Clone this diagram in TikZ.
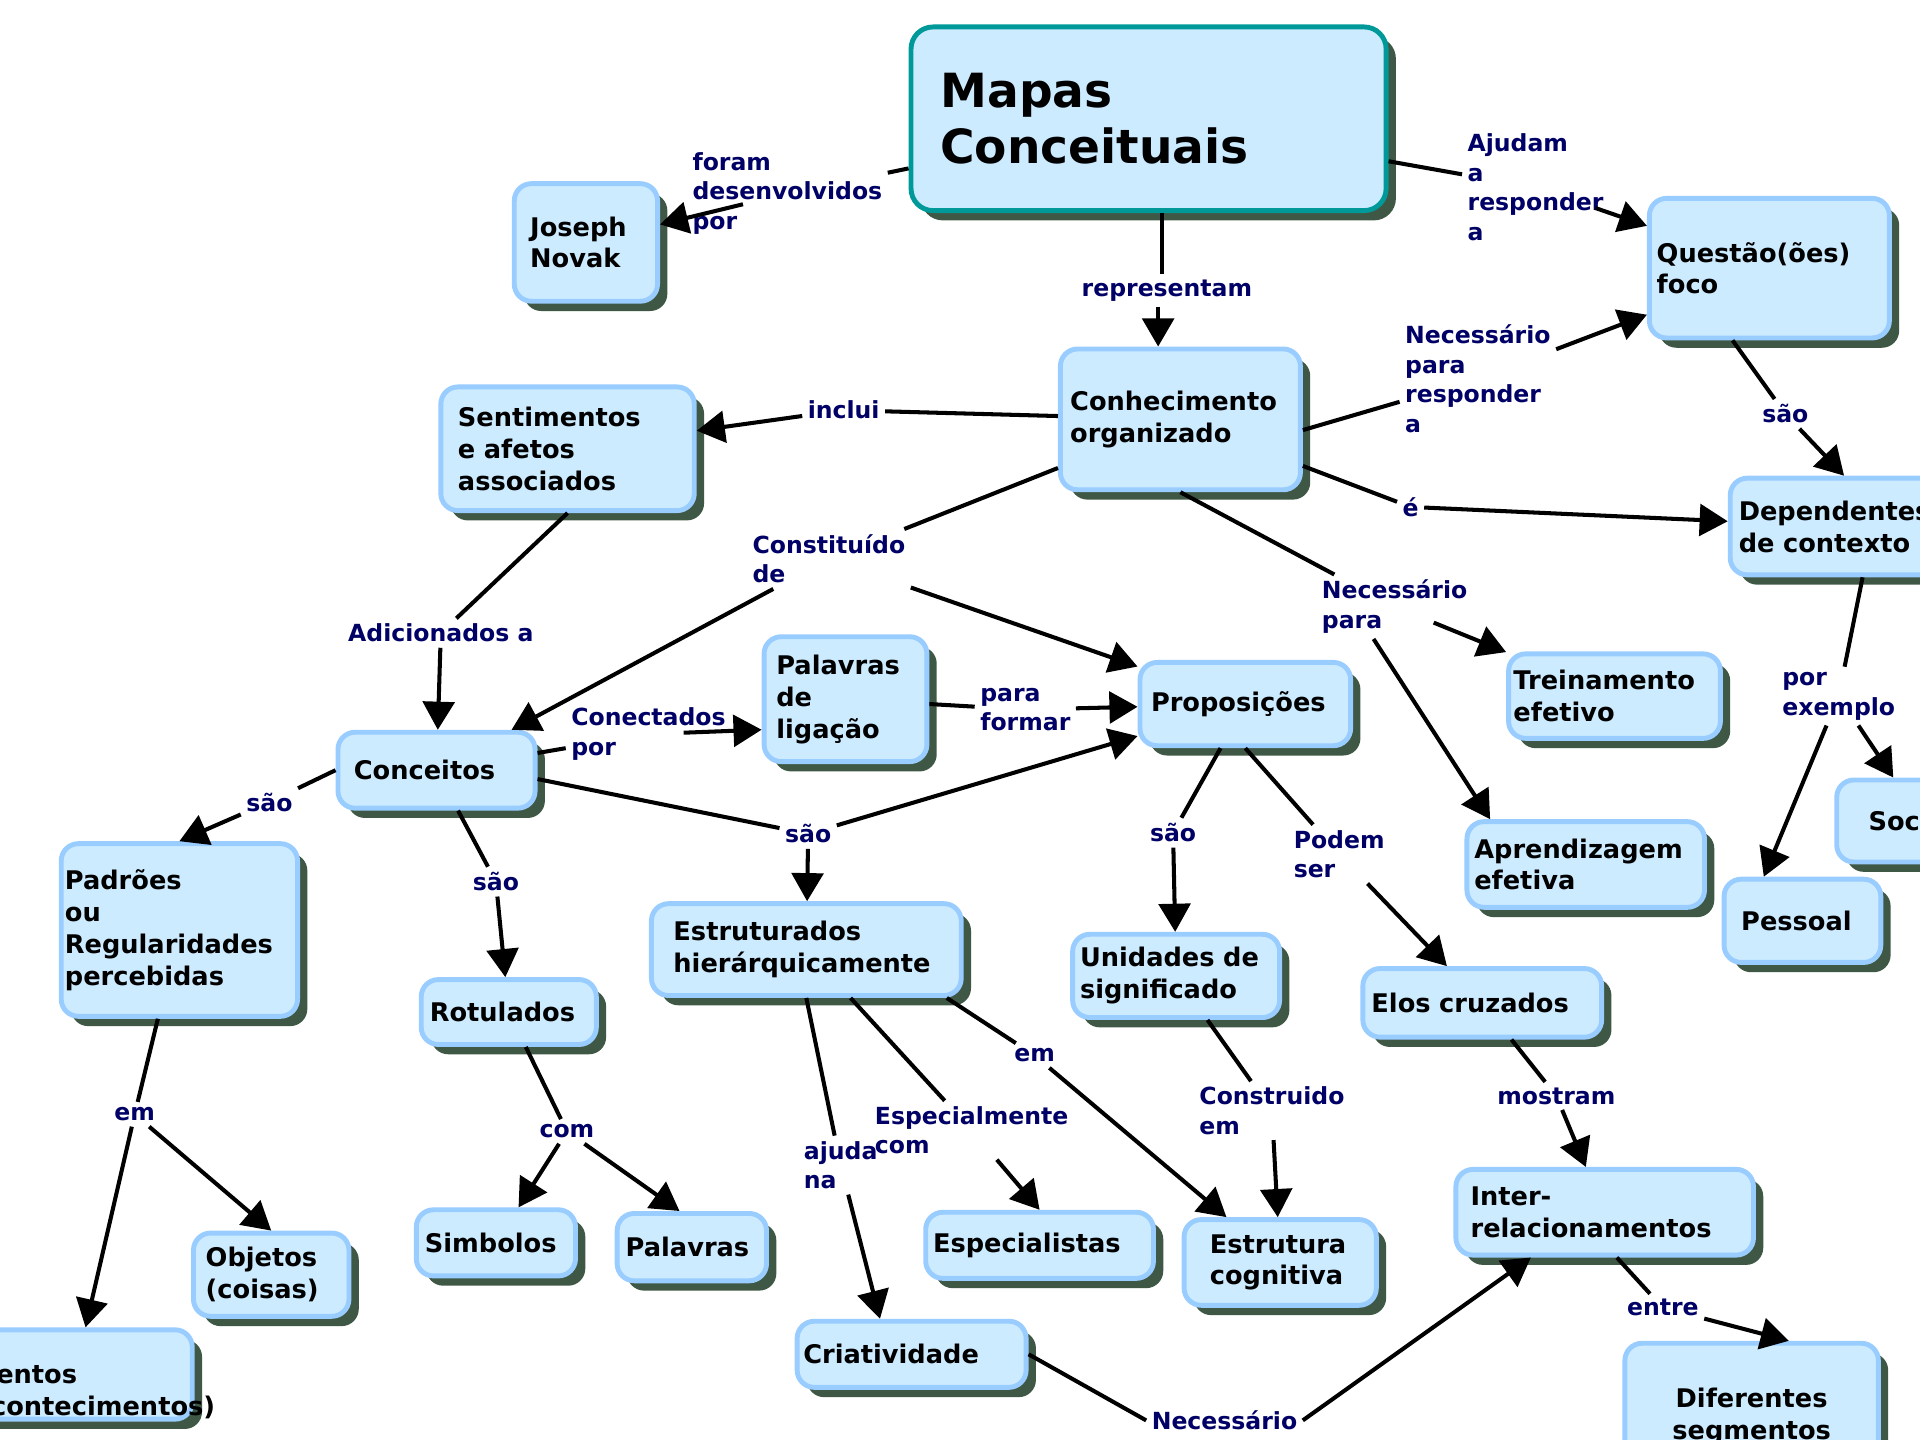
\documentclass[tikz,border=0pt]{standalone}
\usepackage{fontspec}
\setmainfont{DejaVu Sans}
\usetikzlibrary{arrows.meta}
\usetikzlibrary{shadows}
\definecolor{cfill}{HTML}{CCEBFF}
\definecolor{cborder}{HTML}{99CCFF}
\definecolor{mapteal}{HTML}{009999}
\definecolor{shadowc}{HTML}{3F5845}
\definecolor{linknavy}{HTML}{000066}
\newlength{\pxu}\setlength{\pxu}{0.12245mm}
\hyphenpenalty=10000
\exhyphenpenalty=10000

\begin{document}
\begin{tikzpicture}[x=0.12245mm, y=-0.12245mm, % one unit is one pixel of the 1568 wide map, y runs down
                    line join=round,
                    every node/.style = {font=\fontsize{7.3}{9.06}\selectfont\bfseries},
                    concept/.style = {draw=cborder, fill=cfill, line width=4\pxu, rounded corners=14\pxu,
                                      inner xsep=0pt, inner ysep=0pt, align=left,
                                      drop shadow={shadow xshift=8\pxu, shadow yshift=-8\pxu, fill=shadowc, opacity=1}},
                    box/.style n args = {3}{minimum width=#1\pxu, minimum height=#2\pxu, text width=#3\pxu},
                    title/.style = {concept, draw=mapteal, rounded corners=18\pxu,
                                    font=\fontsize{13.4}{16}\selectfont\bfseries},
                    phrase/.style = {text=linknavy, inner sep=4\pxu, align=left,
                                     font=\fontsize{6.7}{8.4}\selectfont\bfseries},
                    link/.style = {line width=1.15pt},
                    arr/.style = {link, -{Triangle[length=8pt, width=9pt]}}
                   ]
  \useasboundingbox (0,0) rectangle (1568,1176);
  \fill[white] (0,0) rectangle (1568,1176);
  \clip (0,0) rectangle (1568,1176);

  % concepts
  \node[title, box={388}{150}{340}] (mapas) at (938,97) {Mapas\\Conceituais};
  \node[concept, box={117}{96}{91}] (novak) at (478.5,198) {Joseph\\Novak};
  \node[concept, box={196}{114}{184}] (questao) at (1445,219) {Questão(ões)\\foco};
  \node[concept, box={196}{115}{180}] (conhec) at (964,342.5) {Conhecimento\\organizado};
  \node[concept, box={207}{101}{179}] (sentim) at (463.5,366.5) {Sentimentos\\e afetos\\associados};
  \node[concept, box={186}{79}{172}] (depend) at (1506,430) {Dependentes\\de contexto};
  \node[concept, box={133}{102}{113}] (palavlig) at (690.5,571) {Palavras\\de\\ligação};
  \node[concept, box={172}{68}{154}] (propos) at (1017,575) {Proposições};
  \node[concept, box={173}{69}{165}] (treina) at (1318.5,568.5) {Treinamento\\efetivo};
  \node[concept, box={161}{62}{135}] (conceitos) at (356.5,629) {Conceitos};
  \node[concept, box={193}{141}{187}] (padroes) at (146.5,759.5) {Padrões\\ou\\Regularidades\\percebidas};
  \node[concept, box={143}{53}{129}] (rotulados) at (415.5,826.5) {Rotulados};
  \node[concept, box={253}{75}{217}] (estrut) at (658.5,775.5) {Estruturados\\hierárquicamente};
  \node[concept, box={169}{68}{157}] (unidades) at (960.5,797) {Unidades de\\significado};
  \node[concept, box={195}{56}{181}] (elos) at (1210.5,819) {Elos cruzados};
  \node[concept, box={194}{70}{182}] (aprend) at (1295,706) {Aprendizagem\\efetiva};
  \node[concept, box={128}{68}{100}] (pessoal) at (1472,752) {Pessoal};
  \node[concept, box={140}{67}{88}] (social) at (1570,670.5) {Social};
  \node[concept, box={127}{68}{107}] (objetos) at (221.5,1041) {Objetos\\(coisas)};
  \node[concept, box={192}{69}{184}] (eventos) at (61,1122.5) {\strut\\Eventos\\(acontecimentos)};
  \node[concept, box={130}{54}{116}] (simbolos) at (405,1015) {Simbolos};
  \node[concept, box={122}{55}{108}] (palavras) at (565,1018.5) {Palavras};
  \node[concept, box={186}{54}{174}] (especial) at (849,1017) {Especialistas};
  \node[concept, box={157}{70}{115}] (estrcog) at (1045.5,1031) {Estrutura\\cognitiva};
  \node[concept, box={187}{54}{177}] (criativ) at (744.5,1106) {Criatividade};
  \node[concept, box={243}{70}{219}] (inter) at (1310.5,990) {Inter-\\relacionamentos};
  \node[concept, box={207}{119}{195}, align=center] (difer) at (1430.5,1156.5) {Diferentes\\segmentos};

  % linking phrases
  \node[phrase, anchor=west] (l-foram) at (561,158) {foram\\desenvolvidos\\por};
  \node[phrase, anchor=west] (l-ajudam) at (1194,153) {Ajudam\\a\\responder\\a};
  \node[phrase] (l-repres) at (953,237) {representam};
  \node[phrase, anchor=west] (l-necresp) at (1143,309.5) {Necessário\\para\\responder\\a};
  \node[phrase] (l-sao1) at (1458,338) {são};
  \node[phrase] (l-inclui) at (689,335) {inclui};
  \node[phrase] (l-e) at (1152,414) {é};
  \node[phrase, anchor=west] (l-const) at (610,456.5) {Constituído\\de};
  \node[phrase, anchor=west] (l-necpara) at (1075,495.5) {Necessário\\para};
  \node[phrase] (l-adic) at (360,517) {Adicionados a};
  \node[phrase, anchor=west] (l-conect) at (462,599.5) {Conectados\\por};
  \node[phrase, anchor=west] (l-formar) at (796,579.5) {para\\formar};
  \node[phrase] (l-sao2) at (220,655) {são};
  \node[phrase] (l-sao3) at (405,720) {são};
  \node[phrase] (l-sao4) at (660,681) {são};
  \node[phrase] (l-sao5) at (958,680) {são};
  \node[phrase, anchor=west] (l-podem) at (1052,697.5) {Podem\\ser};
  \node[phrase, anchor=west] (l-exemplo) at (1451,568.5) {por\\exemplo};
  \node[phrase] (l-em1) at (110,910) {em};
  \node[phrase] (l-com) at (463,924) {com};
  \node[phrase] (l-em2) at (845,862) {em};
  \node[phrase, anchor=west] (l-espec) at (710,923) {Especialmente\\com};
  \node[phrase, anchor=west] (l-ajuda) at (652,951.5) {ajuda\\na};
  \node[phrase, anchor=west] (l-constr) at (975,907) {Construido\\em};
  \node[phrase] (l-mostram) at (1271,895) {mostram};
  \node[phrase] (l-entre) at (1358,1068) {entre};
  \node[phrase] (l-necess) at (1000,1160) {Necessário};

  % connectors
  \draw[link] (mapas) -- (l-foram);
  \draw[arr, shorten <=13pt] (l-foram.center) -- (novak);
  \draw[link] (mapas) -- (l-ajudam);
  \draw[arr, shorten <=18pt] (l-ajudam.center) -- (questao);
  \draw[link] ([xshift=-1.5pt]mapas.south -| l-repres) -- ([xshift=-1.5pt]l-repres.north);
  \draw[arr] ([xshift=-2.5pt]l-repres.south) -- ([xshift=-2.5pt]l-repres.south |- conhec.north);
  \draw[link] (conhec.-5) -- (l-necresp);     \draw[arr] (l-necresp) -- (questao);
  \draw[link] (questao.-117) -- (l-sao1);     \draw[arr] (l-sao1) -- (depend.north);
  \draw[link] (conhec) -- (l-inclui);         \draw[arr] (l-inclui) -- (sentim);
  \draw[link] (conhec) -- (l-e);              \draw[arr] (l-e) -- (depend);
  \draw[link] (conhec) -- (l-const);          \draw[arr] (l-const) -- (conceitos);
                                              \draw[arr] (l-const) -- (propos);
  \draw[link] (conhec.south) -- (l-necpara);
  \draw[arr, shorten <=12pt] (l-necpara.center) -- (treina);
  \draw[arr] ([xshift=-6pt]l-necpara.south) -- ([xshift=7.3pt]aprend.north west);
  \draw[link] (sentim.south) -- (l-adic);     \draw[arr] (l-adic) -- (conceitos);
  \draw[link] (conceitos) -- (l-conect);
  \draw[arr, shorten <=10pt] (l-conect.center) -- (palavlig.200);
  \draw[link] (palavlig) -- (l-formar);       \draw[arr] (l-formar) -- (propos);
  \draw[link] (conceitos.west) -- (l-sao2);   \draw[arr] (l-sao2) -- (padroes.north);
  \draw[link] (conceitos) -- (l-sao3);        \draw[arr] (l-sao3) -- (rotulados);
  \draw[link] (conceitos.-5) -- (l-sao4);     \draw[arr] (l-sao4) -- (propos);
                                              \draw[arr] (l-sao4) -- (estrut);
  \draw[link] (propos) -- (l-sao5);           \draw[arr] (l-sao5) -- (unidades);
  \draw[link] (propos.south) -- (l-podem);    \draw[arr] (l-podem) -- (elos);
  \draw[link] (depend.-70) -- (l-exemplo);    \draw[arr] (l-exemplo) -- ([xshift=-11pt]pessoal.north);
                                              \draw[arr] (l-exemplo) -- (social);
  \draw[link] (padroes) -- (l-em1);           \draw[arr] (l-em1) -- (eventos);
                                              \draw[arr] (l-em1) -- (objetos.north);
  \draw[link] (rotulados) -- (l-com);         \draw[arr] (l-com) -- (simbolos);
                                              \draw[arr] (l-com) -- ([xshift=-3.5pt]palavras.north);
  \draw[link] (estrut.-19) -- (l-em2);        \draw[arr] (l-em2) -- (estrcog);
  \draw[link] (estrut) -- (l-espec);          \draw[arr] (l-espec) -- (especial.north);
  \draw[link] (estrut.south) -- (l-ajuda);    \draw[arr] (l-ajuda) -- ([xshift=-9pt]criativ.north);
  \draw[link] (unidades) -- (l-constr);       \draw[arr] (l-constr) -- (estrcog);
  \draw[link] (elos) -- (l-mostram);          \draw[arr] (l-mostram) -- (inter);
  \draw[link] (inter.-75) -- (l-entre);       \draw[arr] (l-entre) -- ([xshift=10.6pt]difer.north);
  \draw[link] (criativ.east) -- (l-necess.west);
  \draw[arr] (l-necess.east) -- ([xshift=-21pt]inter.south);
\end{tikzpicture}
\end{document}
